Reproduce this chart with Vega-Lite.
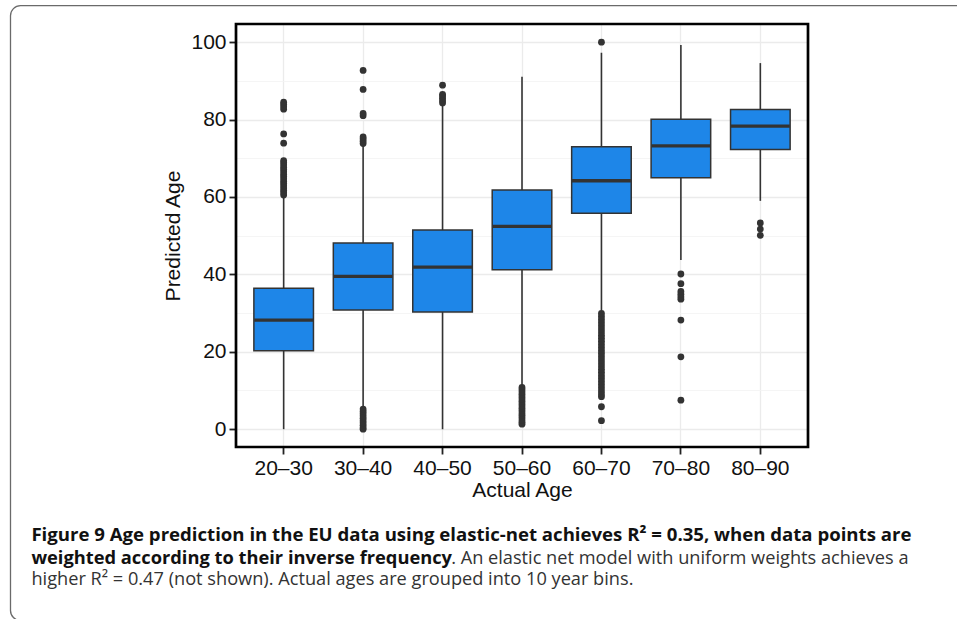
{
  "$schema": "https://vega.github.io/schema/vega-lite/v6.json",
  "width": 572,
  "height": 423,
  "autosize": {"type": "none"},
  "padding": {"left": 236, "top": 24, "right": 149, "bottom": 172},
  "background": "white",
  "config": {
    "view": {"stroke": null},
    "font": "Liberation Sans",
    "axis": {"domain": false, "labelFont": "Liberation Sans", "titleFont": "Liberation Sans", "titleFontWeight": "normal", "labelColor": "#111111", "titleColor": "#111111", "labelFontSize": 21, "titleFontSize": 21, "ticks": true, "tickColor": "#222222", "tickWidth": 1.8, "tickSize": 7, "tickOpacity": 1}
  },
  "datasets": {
    "boxes": [
      {"age": "20–30", "lower": 0, "q1": 20.3, "median": 28.2, "q3": 36.4, "upper": 60.0},
      {"age": "30–40", "lower": 5.9, "q1": 30.8, "median": 39.5, "q3": 48.1, "upper": 73.4},
      {"age": "40–50", "lower": 0, "q1": 30.3, "median": 41.9, "q3": 51.5, "upper": 83.8},
      {"age": "50–60", "lower": 11.2, "q1": 41.2, "median": 52.4, "q3": 61.8, "upper": 91.1},
      {"age": "60–70", "lower": 30.6, "q1": 55.8, "median": 64.2, "q3": 73.0, "upper": 97.3},
      {"age": "70–80", "lower": 43.7, "q1": 65.0, "median": 73.2, "q3": 80.1, "upper": 99.3},
      {"age": "80–90", "lower": 59.0, "q1": 72.3, "median": 78.3, "q3": 82.6, "upper": 94.6}
    ],
    "outliers": [
      {"age": "20–30", "value": 60.5}, {"age": "20–30", "value": 61.1}, {"age": "20–30", "value": 61.7}, {"age": "20–30", "value": 62.3},
      {"age": "20–30", "value": 62.9}, {"age": "20–30", "value": 63.5}, {"age": "20–30", "value": 64.1}, {"age": "20–30", "value": 64.7},
      {"age": "20–30", "value": 65.3}, {"age": "20–30", "value": 65.9}, {"age": "20–30", "value": 66.5}, {"age": "20–30", "value": 67.1},
      {"age": "20–30", "value": 67.7}, {"age": "20–30", "value": 68.3}, {"age": "20–30", "value": 68.9}, {"age": "20–30", "value": 69.4},
      {"age": "20–30", "value": 73.9}, {"age": "20–30", "value": 76.3}, {"age": "20–30", "value": 82.7}, {"age": "20–30", "value": 83.3},
      {"age": "20–30", "value": 83.9}, {"age": "20–30", "value": 84.5},
      {"age": "30–40", "value": 0.0}, {"age": "30–40", "value": 0.4}, {"age": "30–40", "value": 1.0}, {"age": "30–40", "value": 1.6},
      {"age": "30–40", "value": 2.2}, {"age": "30–40", "value": 2.8}, {"age": "30–40", "value": 3.4}, {"age": "30–40", "value": 4.0},
      {"age": "30–40", "value": 4.6}, {"age": "30–40", "value": 5.2}, {"age": "30–40", "value": 73.8}, {"age": "30–40", "value": 74.4},
      {"age": "30–40", "value": 75.0}, {"age": "30–40", "value": 75.5}, {"age": "30–40", "value": 81.0}, {"age": "30–40", "value": 81.6},
      {"age": "30–40", "value": 87.8}, {"age": "30–40", "value": 92.7},
      {"age": "40–50", "value": 84.3}, {"age": "40–50", "value": 84.9}, {"age": "40–50", "value": 85.5}, {"age": "40–50", "value": 86.1},
      {"age": "40–50", "value": 86.5}, {"age": "40–50", "value": 88.9},
      {"age": "50–60", "value": 1.3}, {"age": "50–60", "value": 1.8}, {"age": "50–60", "value": 2.4}, {"age": "50–60", "value": 3.0},
      {"age": "50–60", "value": 3.6}, {"age": "50–60", "value": 4.2}, {"age": "50–60", "value": 4.8}, {"age": "50–60", "value": 5.4},
      {"age": "50–60", "value": 6.0}, {"age": "50–60", "value": 6.6}, {"age": "50–60", "value": 7.2}, {"age": "50–60", "value": 7.8},
      {"age": "50–60", "value": 8.4}, {"age": "50–60", "value": 9.0}, {"age": "50–60", "value": 9.6}, {"age": "50–60", "value": 10.2},
      {"age": "50–60", "value": 10.8},
      {"age": "60–70", "value": 2.2}, {"age": "60–70", "value": 5.8}, {"age": "60–70", "value": 8.4}, {"age": "60–70", "value": 9.1},
      {"age": "60–70", "value": 9.9}, {"age": "60–70", "value": 10.7}, {"age": "60–70", "value": 11.5}, {"age": "60–70", "value": 12.3},
      {"age": "60–70", "value": 13.1}, {"age": "60–70", "value": 13.9}, {"age": "60–70", "value": 14.7}, {"age": "60–70", "value": 15.5},
      {"age": "60–70", "value": 16.3}, {"age": "60–70", "value": 17.1}, {"age": "60–70", "value": 17.9}, {"age": "60–70", "value": 18.7},
      {"age": "60–70", "value": 19.5}, {"age": "60–70", "value": 20.3}, {"age": "60–70", "value": 21.1}, {"age": "60–70", "value": 21.9},
      {"age": "60–70", "value": 22.7}, {"age": "60–70", "value": 23.5}, {"age": "60–70", "value": 24.3}, {"age": "60–70", "value": 25.1},
      {"age": "60–70", "value": 25.9}, {"age": "60–70", "value": 26.7}, {"age": "60–70", "value": 27.5}, {"age": "60–70", "value": 28.3},
      {"age": "60–70", "value": 29.1}, {"age": "60–70", "value": 29.9}, {"age": "60–70", "value": 100.0},
      {"age": "70–80", "value": 7.5}, {"age": "70–80", "value": 18.7}, {"age": "70–80", "value": 28.2}, {"age": "70–80", "value": 33.6},
      {"age": "70–80", "value": 34.2}, {"age": "70–80", "value": 34.9}, {"age": "70–80", "value": 35.6}, {"age": "70–80", "value": 37.6},
      {"age": "70–80", "value": 40.1},
      {"age": "80–90", "value": 50.1}, {"age": "80–90", "value": 51.7}, {"age": "80–90", "value": 53.3}
    ]
  },
  "layer": [
    {
      "data": {"values": [{}]},
      "mark": {"type": "rect", "x": -225.5, "y": -18.3, "x2": 1000, "y2": 596.5, "cornerRadius": 10, "fillOpacity": 0, "stroke": "#6a6a6a", "strokeWidth": 1.3, "clip": false},
      "encoding": {}
    },
    {
      "data": {"name": "boxes"},
      "mark": {"type": "rule", "color": "#333333", "strokeWidth": 1.6},
      "encoding": {
        "x": {
          "field": "age", "type": "nominal", "sort": null,
          "scale": {"type": "band", "paddingInner": 0.25, "paddingOuter": 0.225},
          "axis": {"title": "Actual Age", "labelAngle": 0, "grid": true, "gridColor": "#EBEBEB", "gridWidth": 1.3, "bandPosition": 0.5,
            "labelPadding": 3, "titlePadding": 1, "ticks": true, "tickColor": "#222222", "tickSize": 7, "tickWidth": 1.8}
        },
        "y": {
          "field": "lower", "type": "quantitative",
          "scale": {"domain": [-4.6, 104.7], "nice": false, "zero": false},
          "axis": {
            "title": "Predicted Age",
            "values": [0, 10, 20, 30, 40, 50, 60, 70, 80, 90, 100],
            "labelExpr": "datum.value % 20 === 0 ? datum.label : ''",
            "labelOverlap": false, "labelFlush": false, "labelBound": false,
            "labelPadding": 3, "titlePadding": 7,
            "ticks": true, "tickSize": 7, "tickWidth": 1.8,
            "tickColor": {"condition": {"test": "datum.value % 20 === 0", "value": "#222222"}, "value": "rgba(0,0,0,0)"},
            "grid": true,
            "gridColor": {"condition": {"test": "datum.value % 20 === 0", "value": "#EBEBEB"}, "value": "#F3F3F3"},
            "gridWidth": {"condition": {"test": "datum.value % 20 === 0", "value": 1.3}, "value": 0.8}
          }
        },
        "y2": {"field": "upper"}
      }
    },
    {
      "data": {"name": "boxes"},
      "mark": {"type": "bar", "fill": "#1E86E8", "stroke": "#333333", "strokeWidth": 1.5},
      "encoding": {
        "x": {"field": "age", "type": "nominal", "sort": null},
        "y": {"field": "q1", "type": "quantitative"},
        "y2": {"field": "q3"}
      }
    },
    {
      "data": {"name": "boxes"},
      "mark": {"type": "tick", "orient": "horizontal", "color": "#333333", "size": 59, "thickness": 3.3, "opacity": 1},
      "encoding": {
        "x": {"field": "age", "type": "nominal", "sort": null},
        "y": {"field": "median", "type": "quantitative"}
      }
    },
    {
      "data": {"name": "outliers"},
      "mark": {"type": "point", "filled": true, "color": "#333333", "size": 46, "opacity": 1},
      "encoding": {
        "x": {"field": "age", "type": "nominal", "sort": null},
        "y": {"field": "value", "type": "quantitative"}
      }
    },
    {
      "data": {"values": [{}]},
      "mark": {"type": "rect", "x": 0, "y": 0, "x2": {"expr": "width"}, "y2": {"expr": "height"}, "fillOpacity": 0, "stroke": "#000000", "strokeWidth": 2.7},
      "encoding": {}
    },
    {
      "data": {"values": [{}]},
      "mark": {"type": "text", "x": -204.6, "y": 517, "align": "left", "baseline": "alphabetic", "font": "Open Sans", "fontSize": 18.6, "fontWeight": "bold", "color": "#111111", "clip": false,
        "text": "Figure 9  Age prediction in the EU data using elastic-net achieves R² = 0.35, when data points are"},
      "encoding": {}
    },
    {
      "data": {"values": [{}]},
      "mark": {"type": "text", "x": -204.6, "y": 539.5, "align": "left", "baseline": "alphabetic", "font": "Open Sans", "fontSize": 18.3, "fontWeight": "bold", "color": "#111111", "clip": false,
        "text": "weighted according to their inverse frequency"},
      "encoding": {}
    },
    {
      "data": {"values": [{}]},
      "mark": {"type": "text", "x": 672.5, "y": 539.5, "align": "right", "baseline": "alphabetic", "font": "Open Sans", "fontSize": 18.2, "fontWeight": "normal", "color": "#333333", "clip": false,
        "text": ". An elastic net model with uniform weights achieves a"},
      "encoding": {}
    },
    {
      "data": {"values": [{}]},
      "mark": {"type": "text", "x": -204.6, "y": 561, "align": "left", "baseline": "alphabetic", "font": "Open Sans", "fontSize": 18.2, "fontWeight": "normal", "color": "#333333", "clip": false,
        "text": "higher R² = 0.47 (not shown). Actual ages are grouped into 10 year bins."},
      "encoding": {}
    }
  ]
}
